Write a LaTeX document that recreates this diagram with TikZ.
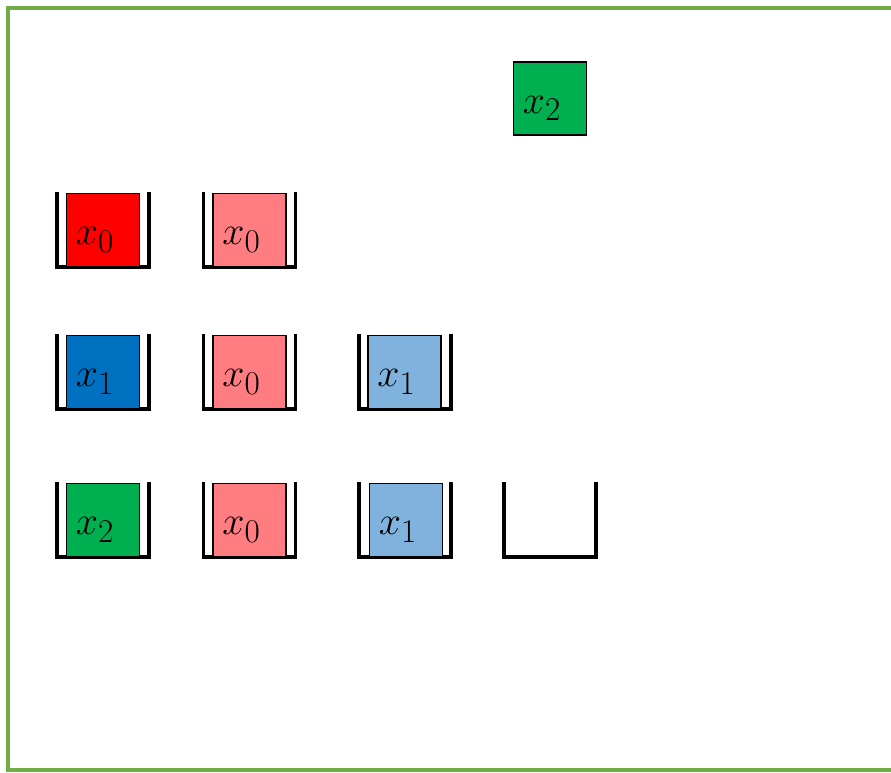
\documentclass[tikz,border=0pt]{standalone}
\usepackage{tikz}
\usetikzlibrary{calc}
\definecolor{frameGreen}{HTML}{70AD47}
\definecolor{redA}{HTML}{FF0000}
\definecolor{redB}{HTML}{FF7C80}
\definecolor{blueA}{HTML}{0070C0}
\definecolor{blueB}{HTML}{7FB3DD}
\definecolor{greenA}{HTML}{00B050}
\tikzstyle{wall}=[line width=3.4pt,line join=miter]
\tikzstyle{block}=[draw,line width=1.6pt,minimum size=73pt,inner sep=0pt]
\tikzstyle{lbl}=[font=\Huge,scale=1.6,transform shape,inner sep=0pt]
% walls of one slot round the point #1
\newcommand{\slotWalls}[1]{
\draw[wall] ($(#1)+(-46,-38)$) -- ($(#1)+(-46,37)$)
  -- ($(#1)+(46,37)$) -- ($(#1)+(46,-38)$);
}
\begin{document}
\begin{tikzpicture}[x=1pt,y=-1pt]
\useasboundingbox (0,0) rectangle (891,772);
%frame
\draw[frameGreen,line width=3.5pt] (895,8) -- (8,8) -- (8,770) -- (895,770);
%incoming block
\node[block,fill=greenA] (top) at (550,98.5) {};
\node[lbl] (topt) at ($(top)+(-8,10)$) {$x_2$};
%row 1
\coordinate (s11) at (103,230);
\coordinate (s12) at (249.5,230);
\slotWalls{s11}
\slotWalls{s12}
\node[block,fill=redA] (b11) at (s11) {};
\node[block,fill=redB] (b12) at (s12) {};
\node[lbl] (t11) at ($(b11)+(-8,10)$) {$x_0$};
\node[lbl] (t12) at ($(b12)+(-8,10)$) {$x_0$};
%row 2
\coordinate (s21) at (103,372);
\coordinate (s22) at (249.5,372);
\coordinate (s23) at (405,372);
\slotWalls{s21}
\slotWalls{s22}
\slotWalls{s23}
\node[block,fill=blueA] (b21) at (s21) {};
\node[block,fill=redB] (b22) at (s22) {};
\node[block,fill=blueB] (b23) at ($(s23)+(-0.5,0)$) {};
\node[lbl] (t21) at ($(b21)+(-8,10)$) {$x_1$};
\node[lbl] (t22) at ($(b22)+(-8,10)$) {$x_0$};
\node[lbl] (t23) at ($(b23)+(-8,10)$) {$x_1$};
%row 3
\coordinate (s31) at (103,520);
\coordinate (s32) at (249.5,520);
\coordinate (s33) at (405,520);
\coordinate (s34) at (550,520);
\slotWalls{s31}
\slotWalls{s32}
\slotWalls{s33}
\slotWalls{s34}
\node[block,fill=greenA] (b31) at (s31) {};
\node[block,fill=redB] (b32) at (s32) {};
\node[block,fill=blueB] (b33) at ($(s33)+(1,0)$) {};
\node[lbl] (t31) at ($(b31)+(-8,10)$) {$x_2$};
\node[lbl] (t32) at ($(b32)+(-8,10)$) {$x_0$};
\node[lbl] (t33) at ($(b33)+(-8,10)$) {$x_1$};
\end{tikzpicture}
\end{document}
